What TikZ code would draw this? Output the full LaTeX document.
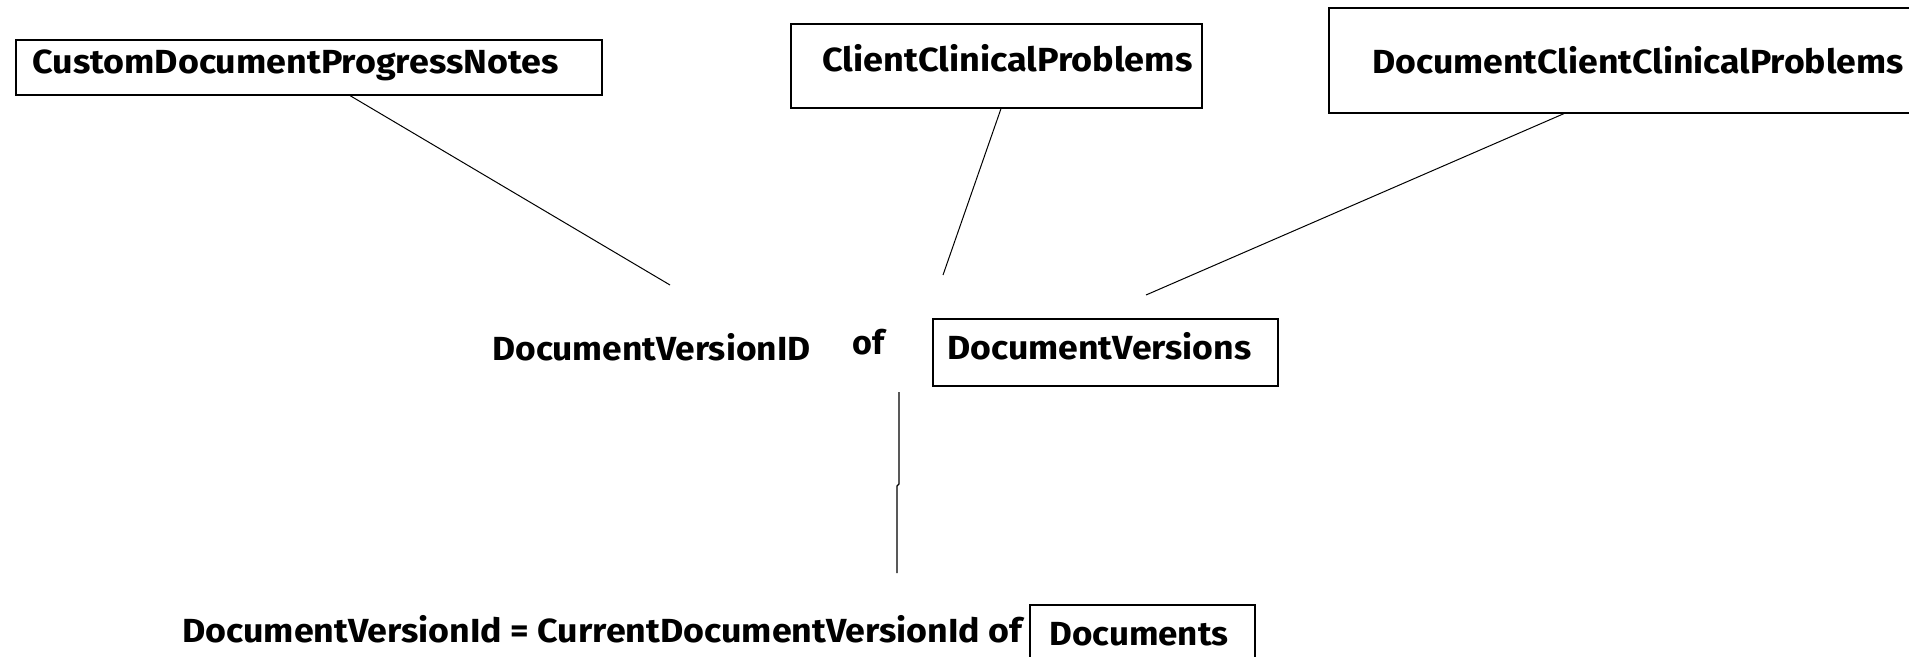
\documentclass[tikz,border=0pt]{standalone}
\usepackage{fontspec}
\setmainfont{Fira Sans}
\usepackage{graphicx}
\newcommand{\fitw}[2]{\resizebox{#1\dimexpr 0.5pt\relax}{\height}{\bfseries #2}}
\begin{document}
\begin{tikzpicture}[x=0.5pt,y=-0.5pt,
  box/.style={draw=black,line width=0.8pt,inner sep=0pt,rectangle},
  lbl/.style={inner sep=0pt,anchor=base west,font=\fontsize{16.7pt}{18pt}\selectfont,text=black},
  conn/.style={draw=black,line width=0.5pt}]
\useasboundingbox (0,0) rectangle (1909,657);
\fill[white] (0,0) rectangle (1909,657);
% boxes
\node[box,minimum width=293pt,minimum height=27.5pt,anchor=north west] (b1) at (15,39) {};
\node[box,minimum width=205.5pt,minimum height=42pt,anchor=north west] (b2) at (790,23) {};
\node[box,minimum width=301pt,minimum height=52.5pt,anchor=north west] (b3) at (1328,7) {};
\node[box,minimum width=172.5pt,minimum height=33.5pt,anchor=north west] (b4) at (932,318) {};
\node[box,minimum width=112.5pt,minimum height=40pt,anchor=north west] (b5) at (1029,604) {};
% texts
\node[lbl] (t1) at (32,74) {\fitw{526}{CustomDocumentProgressNotes}};
\node[lbl] (t2) at (822,72) {\fitw{370}{ClientClinicalProblems}};
\node[lbl] (t3) at (1372,74) {\fitw{531}{DocumentClientClinicalProblems}};
\node[lbl] (t4) at (492,360) {\fitw{318}{DocumentVersionID}};
\node[lbl] (t5) at (852,355) {\fitw{32}{of}};
\node[lbl] (t6) at (947,359) {\fitw{304}{DocumentVersions}};
\node[lbl] (t7) at (182,642) {\fitw{840}{DocumentVersionId = CurrentDocumentVersionId of}};
\node[lbl] (t8) at (1049,645) {\fitw{179}{Documents}};
% free ends
\coordinate (e1) at (670,285);
\coordinate (e2) at (943,275);
\coordinate (e3) at (1146,295);
\coordinate (v1) at (899,392);
\coordinate (v2) at (899,484);
\coordinate (v3) at (897,486);
\coordinate (v4) at (897,573);
% connectors
\draw[conn] (b1.south -| 350,0) -- (e1);
\draw[conn] (b2.south -| 1001,0) -- (e2);
\draw[conn] (b3.south -| 1564,0) -- (e3);
\draw[conn,line width=0.6pt] (v1) -- (v2) -- (v3) -- (v4);
\end{tikzpicture}
\end{document}
